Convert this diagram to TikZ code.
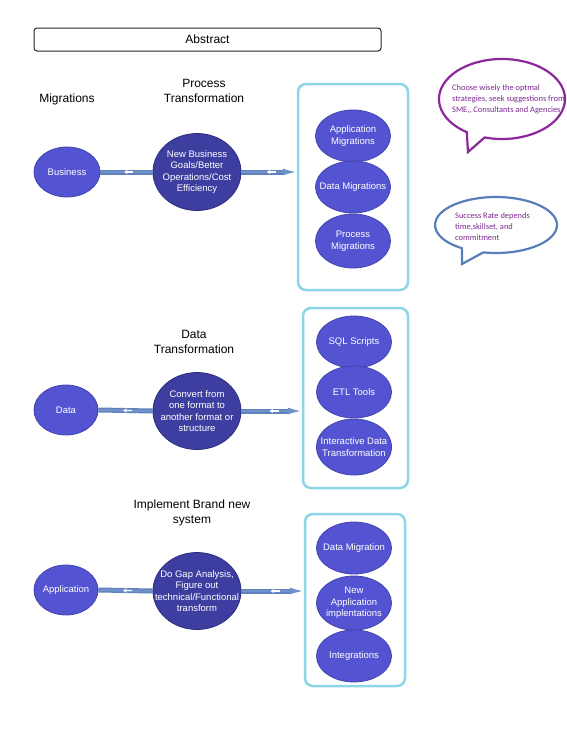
\documentclass[tikz,border=0pt]{standalone}
\usepackage{fontspec}
\setmainfont{Liberation Sans}
\newfontfamily\callfont{Carlito}
\usetikzlibrary{shapes.geometric,arrows.meta,decorations.markings}
\definecolor{lightfill}{RGB}{84,84,210}
\definecolor{lightdraw}{RGB}{66,66,175}
\definecolor{darkfill}{RGB}{62,62,160}
\definecolor{darkdraw}{RGB}{44,44,128}
\definecolor{boxblue}{RGB}{140,214,232}
\definecolor{connblue}{RGB}{96,130,188}
\definecolor{connlight}{RGB}{112,146,202}
\definecolor{callpurple}{RGB}{140,40,155}
\definecolor{calltext}{RGB}{125,40,145}
\definecolor{callblue}{RGB}{88,126,186}
\tikzset{
  x=1pt, y=-1pt,
  elltext/.style={align=center, text=white, font=\fontsize{9.5}{11.5}\selectfont, inner sep=0pt},
  lightell/.style={ellipse, fill=lightfill, draw=lightdraw, line width=0.8pt, inner sep=0pt},
  darkell/.style={lightell, fill=darkfill, draw=darkdraw},
  bluebox/.style={draw=boxblue, line width=2.5pt, rounded corners=8pt, inner sep=0pt},
  title/.style={align=center, font=\fontsize{12}{15}\selectfont},
  conn/.style={draw=connblue, line width=5pt,
    postaction={draw=connlight, line width=2.5pt},
    postaction={decorate, decoration={markings, mark=at position 0.55 with {
      \draw[white, line width=1.2pt, -{Stealth[length=3.5pt,width=4.5pt]}] (4pt,0) -- (-5pt,0);}}}},
  connend/.style={conn, -{Triangle[length=14pt,width=5pt]}},
  calltxt/.style={align=left, text=calltext, font=\callfont\fontsize{8.4}{11}\selectfont, inner sep=0pt, anchor=west}
}
\begin{document}
\begin{tikzpicture}
\useasboundingbox[fill=white] (0,0) rectangle (567,732);

% Abstract
\node[draw=black!85, line width=1pt, rounded corners=3pt, minimum width=347pt, minimum height=23pt,
  inner sep=0pt, font=\fontsize{12}{14}\selectfont] (abstract) at (207.5,39.5) {Abstract};

% Section 1
\node[title] (tmig) at (67,99) {Migrations};
\node[title] (tproc) at (204,91) {Process\\Transformation};
\node[lightell, minimum width=66pt, minimum height=50pt, label={[elltext]center:{Business}}] (business) at (67,172) {};
\node[darkell, minimum width=88pt, minimum height=77pt, label={[elltext]center:{New Business\\Goals/Better\\Operations/Cost\\Efficiency}}] (goals) at (197,172) {};
\node[bluebox, minimum width=110pt, minimum height=206pt] (box1) at (353,187) {};
\node[lightell, minimum width=75pt, minimum height=52pt, label={[elltext]center:{Application\\Migrations}}] (appmig) at (353,136) {};
\node[lightell, minimum width=75pt, minimum height=52pt, label={[elltext]center:{Data Migrations}}] (datamig) at (353,187) {};
\node[lightell, minimum width=75pt, minimum height=54pt, label={[elltext]center:{Process\\Migrations}}] (procmig) at (353,241) {};
\draw[conn] (business.east) -- (goals.west);
\draw[connend] (goals.east) -- (goals.east -| box1.west);

% Callouts
\draw[callpurple, line width=2.2pt, line join=miter]
  (502,99) ++(106:63 and 40) arc[start angle=106, end angle=-236, x radius=63, y radius=40]
  -- (468,152) -- cycle;
\node[calltxt] (call1) at (452,99) {Choose wisely the optmal\\strategies, seek suggestions from\\SME,, Consultants and Agencies};
\draw[callblue, line width=2.2pt, line join=miter]
  (496,225) ++(102:61 and 28) arc[start angle=102, end angle=-236, x radius=61, y radius=28]
  -- (462,264) -- cycle;
\node[calltxt] (call2) at (455,227) {Success Rate depends\\time,skillset, and\\commitment};

% Section 2
\node[title] (tdata) at (194,342) {Data\\Transformation};
\node[lightell, minimum width=64pt, minimum height=50pt, label={[elltext]center:{Data}}] (data) at (66,410) {};
\node[darkell, minimum width=88pt, minimum height=77pt, label={[elltext]center:{Convert from\\one format to\\another format or\\structure}}] (convert) at (197,411) {};
\node[bluebox, minimum width=105pt, minimum height=180pt] (box2) at (355.5,398) {};
\node[lightell, minimum width=75pt, minimum height=52pt, label={[elltext]center:{SQL Scripts}}] (sql) at (354,342) {};
\node[lightell, minimum width=75pt, minimum height=52pt, label={[elltext]center:{ETL Tools}}] (etl) at (354,392) {};
\node[lightell, minimum width=75pt, minimum height=56pt, label={[elltext]center:{Interactive Data\\Transformation}}] (interactive) at (354,447) {};
\draw[conn] (data.east) -- (convert.west);
\draw[connend] (convert.east) -- (convert.east -| box2.west);

% Section 3
\node[title] (timpl) at (192,513) {Implement Brand new\\system};
\node[lightell, minimum width=64pt, minimum height=50pt, label={[elltext]center:{Application}}] (application) at (66,590) {};
\node[darkell, minimum width=88pt, minimum height=77pt, label={[elltext]center:{Do Gap Analysis,\\Figure out\\technical/Functional\\transform}}] (gap) at (197,591) {};
\node[bluebox, minimum width=100pt, minimum height=172pt] (box3) at (355,600) {};
\node[lightell, minimum width=75pt, minimum height=52pt, label={[elltext]center:{Data Migration}}] (datamig2) at (354,548) {};
\node[lightell, minimum width=75pt, minimum height=54pt, label={[elltext]center:{New\\Application\\implentations}}] (newapp) at (354,603) {};
\node[lightell, minimum width=75pt, minimum height=52pt, label={[elltext]center:{Integrations}}] (integ) at (354,656) {};
\draw[conn] (application.east) -- (gap.west);
\draw[connend] (gap.east) -- (gap.east -| box3.west);
\end{tikzpicture}
\end{document}
